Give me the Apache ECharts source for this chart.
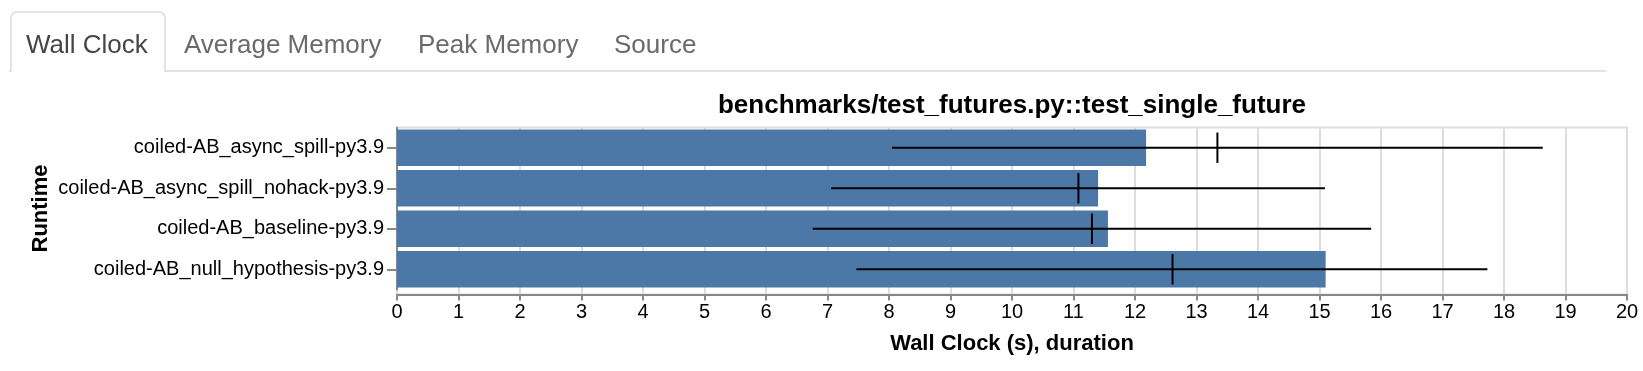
<!DOCTYPE html>
<html>
<head>
<meta charset="utf-8">
<script src="https://cdn.jsdelivr.net/npm/echarts@6/dist/echarts.min.js"></script>
<style>
  html, body { margin: 0; padding: 0; background: #fff; width: 1643px; height: 371px; overflow: hidden; }
  #chart { position: absolute; left: 0; top: 0; width: 1643px; height: 371px; }
  .strip { position: absolute; left: 9px; top: 70px; width: 1597px; height: 2px; background: #e3e3e3; }
  .tab-active { position: absolute; left: 9.5px; top: 11px; width: 152px; height: 59px; border: 2px solid #e3e3e3; border-bottom: none; border-radius: 7px 7px 0 0; background: #fff; }
  .tab { position: absolute; top: 29px; font-family: "Liberation Sans", Arial, sans-serif; font-size: 26px; line-height: normal; color: #6a6a6a; white-space: nowrap; }
  .tab.on { color: #454545; }
</style>
</head>
<body>
<div id="chart"></div>
<div class="strip"></div>
<div class="tab-active"></div>
<div class="tab on" style="left:26px">Wall Clock</div>
<div class="tab" style="left:184px">Average Memory</div>
<div class="tab" style="left:418px">Peak Memory</div>
<div class="tab" style="left:614px">Source</div>
<script>
const categories = [
  'coiled-AB_async_spill-py3.9',
  'coiled-AB_async_spill_nohack-py3.9',
  'coiled-AB_baseline-py3.9',
  'coiled-AB_null_hypothesis-py3.9'
];
const barValues  = [12.18, 11.40, 11.56, 15.10];
const meanValues = [13.34, 11.08, 11.30, 12.61];
const lowValues  = [8.05, 7.06, 6.76, 7.47];
const highValues = [18.63, 15.09, 15.84, 17.73];
const xTicks = [0, 20, 1]; // min, max, interval

const FONT = '"Liberation Sans", Arial, sans-serif';
const chart = echarts.init(document.getElementById('chart'), null, { renderer: 'canvas' });

const errData = categories.map((c, i) => [lowValues[i], highValues[i], i]);
const meanData = categories.map((c, i) => [meanValues[i], i]);

const PLOT_TOP = 127.5, PLOT_H = 162, AXIS_OFFSET = 5;

chart.setOption({
  animation: false,
  grid: [
    { left: 397, right: 16, top: PLOT_TOP, height: PLOT_H, show: false },
    { left: 397, right: 16, top: PLOT_TOP, height: PLOT_H + AXIS_OFFSET, show: true, borderColor: '#ddd', borderWidth: 2, z: 0 }
  ],
  graphic: [
    {
      type: 'text', x: 1012, y: 106,
      style: { text: 'benchmarks/test_futures.py::test_single_future', align: 'center', verticalAlign: 'middle', font: 'bold 26px ' + FONT, fill: '#000' }
    },
    {
      type: 'text', x: 41, y: PLOT_TOP + PLOT_H / 2, rotation: Math.PI / 2,
      style: { text: 'Runtime', align: 'center', verticalAlign: 'middle', font: 'bold 22px ' + FONT, fill: '#000' }
    }
  ],
  xAxis: [
    { type: 'value', gridIndex: 0, min: xTicks[0], max: xTicks[1], interval: xTicks[2], show: false },
    {
      type: 'value', gridIndex: 1, min: xTicks[0], max: xTicks[1], interval: xTicks[2],
      name: 'Wall Clock (s), duration', nameLocation: 'middle', nameGap: 38,
      nameTextStyle: { fontFamily: FONT, fontWeight: 'bold', fontSize: 22, color: '#000' },
      axisLine: { show: true, lineStyle: { color: '#888', width: 2 } },
      axisTick: { show: true, length: 6, lineStyle: { color: '#888', width: 2 } },
      axisLabel: { fontFamily: FONT, fontSize: 20, color: '#000', margin: 8 },
      splitLine: { show: true, lineStyle: { color: '#ddd', width: 2 } }
    }
  ],
  yAxis: [
    {
      type: 'category', gridIndex: 0, data: categories, inverse: true,
      axisLine: { show: true, lineStyle: { color: '#888', width: 2 } },
      axisTick: { show: true, alignWithLabel: true, length: 10, lineStyle: { color: '#888', width: 2 } },
      axisLabel: { fontFamily: FONT, fontSize: 20, color: '#000', margin: 13 },
      splitLine: { show: false }
    },
    { type: 'value', gridIndex: 1, show: false, min: 0, max: 1 }
  ],
  series: [
    {
      type: 'bar', xAxisIndex: 0, yAxisIndex: 0, data: barValues, barWidth: '90%',
      itemStyle: { color: '#4c78a8' }, z: 2
    },
    {
      type: 'custom', xAxisIndex: 0, yAxisIndex: 0, data: errData, z: 3,
      encode: { x: [0, 1], y: 2 },
      renderItem: function (params, api) {
        const a = api.coord([api.value(0), api.value(2)]);
        const b = api.coord([api.value(1), api.value(2)]);
        return { type: 'line', shape: { x1: a[0], y1: a[1], x2: b[0], y2: b[1] }, style: { stroke: '#000', lineWidth: 2 } };
      }
    },
    {
      type: 'custom', xAxisIndex: 0, yAxisIndex: 0, data: meanData, z: 4,
      encode: { x: 0, y: 1 },
      renderItem: function (params, api) {
        const p = api.coord([api.value(0), api.value(1)]);
        const h = api.size([0, 1])[1] * 0.75 / 2;
        return { type: 'line', shape: { x1: p[0], y1: p[1] - h, x2: p[0], y2: p[1] + h }, style: { stroke: '#000', lineWidth: 2 } };
      }
    }
  ]
});
</script>
</body>
</html>
